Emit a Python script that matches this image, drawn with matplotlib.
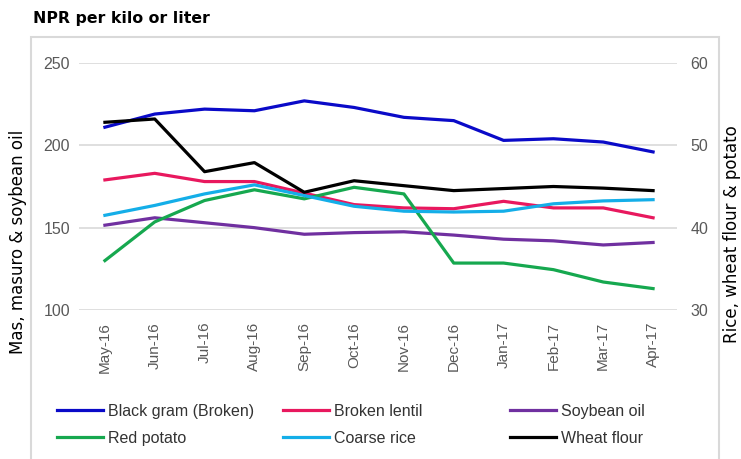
import matplotlib
matplotlib.use("Agg")
import matplotlib.pyplot as plt
from matplotlib.patches import Rectangle

# precios mensuales (NPR)
meses = ["May-16", "Jun-16", "Jul-16", "Aug-16", "Sep-16", "Oct-16",
         "Nov-16", "Dec-16", "Jan-17", "Feb-17", "Mar-17", "Apr-17"]

# eje izquierdo
black_gram = [211, 219, 222, 221, 227, 223, 217, 215, 203, 204, 202, 196]
broken_lentil = [179, 183, 178, 178, 171, 164, 162, 161.5, 166, 162, 162, 156]
soybean_oil = [151.5, 156, 153, 150, 146, 147, 147.5, 145.5, 143, 142, 139.5, 141]

# eje derecho
red_potato = [36.0, 40.7, 43.3, 44.6, 43.5, 44.9, 44.1, 35.7, 35.7, 34.9, 33.4, 32.6]
coarse_rice = [41.5, 42.7, 44.1, 45.2, 43.9, 42.6, 42.0, 41.9, 42.0, 42.9, 43.25, 43.4]
wheat_flour = [52.8, 53.2, 46.8, 47.9, 44.3, 45.7, 45.1, 44.5, 44.75, 45.0, 44.8, 44.5]

left_ticks = [100, 150, 200, 250]
right_ticks = [30, 40, 50, 60]

arial = "Liberation Sans"
gris = "#595959"


def main():
    fig = plt.figure(figsize=(7.41, 4.59), dpi=100)
    fig.patch.set_facecolor("white")

    # marco del grafico
    fig.patches.append(Rectangle((31 / 741, -0.1), (719 - 31) / 741, 1.1 - 37 / 459,
                                 transform=fig.transFigure, fill=False,
                                 edgecolor="#d9d9d9", lw=1.5))

    ax = fig.add_axes([79 / 741, 1 - 310 / 459, (677 - 79) / 741, (310 - 63) / 459])
    ax2 = ax.twinx()
    x = list(range(len(meses)))
    lw = 2.3

    l1, = ax.plot(x, black_gram, color="#0a0ac8", lw=lw)
    l2, = ax.plot(x, broken_lentil, color="#e8185e", lw=lw)
    l3, = ax.plot(x, soybean_oil, color="#7030a0", lw=lw)
    l4, = ax2.plot(x, red_potato, color="#16a84f", lw=lw)
    l5, = ax2.plot(x, coarse_rice, color="#14aee8", lw=lw)
    l6, = ax2.plot(x, wheat_flour, color="black", lw=lw)

    ax.set_xlim(-0.52, 11.48)
    ax.set_ylim(100, 250)
    ax2.set_ylim(30, 60)
    ax.set_yticks(left_ticks)
    ax2.set_yticks(right_ticks)
    ax.set_xticks(x)
    ax.set_xticklabels(meses, rotation=90, family=arial, fontsize=11, color=gris)
    for t in ax.get_yticklabels() + ax2.get_yticklabels():
        t.set_family(arial)
    ax.tick_params(axis="y", length=0, labelsize=11.5, labelcolor=gris, pad=6.5)
    ax2.tick_params(axis="y", length=0, labelsize=11.5, labelcolor=gris, pad=9.5)
    ax.tick_params(axis="x", length=0, pad=8.5)
    ax.yaxis.grid(True, color="#d9d9d9", lw=1.2)
    ax.set_axisbelow(True)
    for a in (ax, ax2):
        for s in a.spines.values():
            s.set_visible(False)

    fig.text(33 / 741, 1 - 18 / 459, "NPR per kilo or liter", fontsize=11.3,
             fontweight="bold", va="center", ha="left")
    fig.text(18 / 741, 1 - 242 / 459, "Mas, masuro & soybean oil", rotation=90,
             fontsize=12, va="center", ha="center")
    fig.text(732 / 741, 1 - 234 / 459, "Rice, wheat flour & potato", rotation=90,
             fontsize=12, va="center", ha="center")

    # leyenda en tres columnas
    columnas = [(57, [l1, l4], ["Black gram (Broken)", "Red potato"]),
                (283, [l2, l5], ["Broken lentil", "Coarse rice"]),
                (510, [l3, l6], ["Soybean oil", "Wheat flour"])]
    for xpos, hs, labs in columnas:
        fig.legend(hs, labs, loc="upper left", bbox_to_anchor=(xpos / 741, 1 - 404 / 459),
                   frameon=False, borderpad=0, borderaxespad=0, handlelength=2.9,
                   handletextpad=0.3, labelspacing=0.75,
                   prop={"family": arial, "size": 11.5}, labelcolor="#333333")

    fig.savefig("out.png", dpi=100)


if __name__ == "__main__":
    main()
